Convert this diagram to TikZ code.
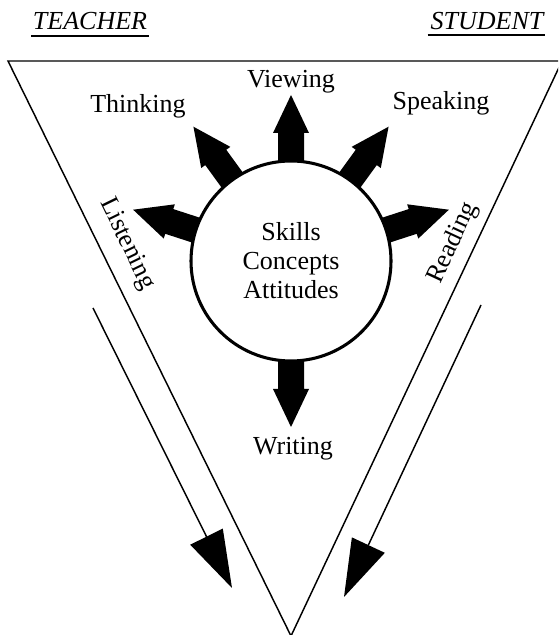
\documentclass[tikz,border=0pt]{standalone}
\usepackage{fontspec}
\setmainfont{Liberation Serif}
\usetikzlibrary{arrows.meta,calc}
\begin{document}
\begin{tikzpicture}[x=0.75pt,y=0.75pt,
  lab/.style={font=\fontsize{19.5}{21.75}\selectfont, inner sep=0pt},
  headlab/.style={font=\fontsize{19.5}{22}\selectfont\itshape, inner sep=0pt},
  edge/.style={line width=1.1pt},
  uline/.style={line width=1.4pt},
  flow/.style={line width=1.1pt, -{Triangle[length=43pt,width=27pt]}},
  spoke/.style={fill=black}]
\useasboundingbox (0,0) rectangle (558,635);
\clip (0,0) rectangle (558,635);
% triangle
\coordinate (TL) at (8,574);
\coordinate (TR) at (562,574);
\coordinate (V) at (291,-1);
\draw[edge, line join=miter] (TL) -- (TR) -- (V) -- cycle;
% headings
\node[headlab, anchor=base] (teacher) at (90,605) {TEACHER};
\draw[uline] ([yshift=-4.5pt,xshift=-1pt]teacher.base west) -- ([yshift=-4.5pt,xshift=1pt]teacher.base east);
\node[headlab, anchor=base] (student) at (487,605) {STUDENT};
\draw[uline] ([yshift=-4pt,xshift=-2pt]student.base west) -- ([yshift=-4pt,xshift=1pt]student.base east);
% spokes
\coordinate (C) at (291,374);
\foreach \a in {18,54,90,126,162,270}{
  \fill[spoke, shift={(C)}, rotate=\a] (88,-13) -- (128,-13) -- (128,-18) -- (166,0) -- (128,18) -- (128,13) -- (88,13) -- cycle;
}
% circle
\node[circle, draw, line width=2.3pt, fill=white, minimum size=150pt, inner sep=0pt,
      align=center, lab] (circ) at (C) {Skills\\Concepts\\Attitudes};
% labels
\node[lab, anchor=base] (view) at (291,547) {Viewing};
\node[lab, anchor=base] (think) at (138,522) {Thinking};
\node[lab, anchor=base] (speak) at (441,525) {Speaking};
\node[lab, anchor=base] (write) at (293,180) {Writing};
\node[lab, rotate=-64] (listen) at (127,391) {Listening};
\node[lab, rotate=65] (read) at (453,392) {Reading};
% long arrows
\coordinate (LA) at (93,327);
\coordinate (LB) at (232,47);
\draw[flow] (LA) -- (LB);
\coordinate (RA) at (481,330);
\coordinate (RB) at (344,38);
\draw[flow] (RA) -- (RB);
\end{tikzpicture}
\end{document}
